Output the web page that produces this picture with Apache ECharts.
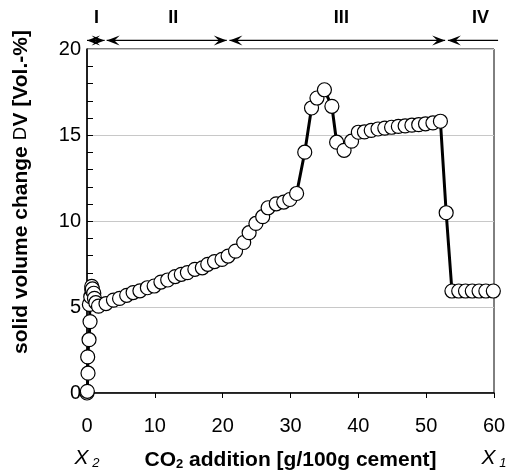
<!DOCTYPE html>
<html>
<head>
<meta charset="utf-8">
<script src="https://cdn.jsdelivr.net/npm/echarts@6/dist/echarts.min.js"></script>
<style>
  html, body { margin: 0; padding: 0; background: #fff; }
  #chart { width: 516px; height: 476px; }
</style>
</head>
<body>
<div id="chart"></div>
<script>
// CO2 addition [g/100g cement]
var xValues = [
  0, 0.05, 0.15, 0.1, 0.3, 0.45, 0.35, 0.55, 0.7, 0.7, 0.8, 1.0, 1.1, 1.3, 1.7,
  2.8, 3.9, 4.8, 5.85, 6.8, 7.8, 8.9, 9.9, 10.9, 11.9, 13.0, 13.9, 14.8, 15.9,
  17.0, 17.8, 18.8, 19.9, 20.8, 21.9, 23.1, 23.9, 24.9, 25.9, 26.7, 27.9, 29.0,
  29.9, 30.9, 32.1, 33.1, 33.9, 35.0, 36.1, 36.8, 37.9, 39.0, 40.0, 40.9, 41.9,
  42.9, 43.9, 44.9, 45.9, 46.9, 47.9, 48.9, 49.9, 51.0, 52.1, 52.95,
  53.8, 54.8, 55.8, 56.8, 57.8, 58.8, 59.9
];
// solid volume change [Vol.-%]
var yValues = [
  0, 0.1, 1.15, 2.1, 3.1, 4.15, 5.15, 5.6, 6.0, 6.2, 6.05, 5.8, 5.5, 5.25, 5.05,
  5.2, 5.4, 5.5, 5.68, 5.84, 5.94, 6.12, 6.22, 6.45, 6.57, 6.77, 6.9, 7.0, 7.19,
  7.28, 7.48, 7.64, 7.77, 7.96, 8.25, 8.75, 9.32, 9.86, 10.25, 10.77, 11.0, 11.1,
  11.25, 11.6, 14.0, 16.57, 17.15, 17.63, 16.67, 14.58, 14.11, 14.64, 15.16, 15.18, 15.27,
  15.35, 15.4, 15.45, 15.5, 15.53, 15.57, 15.6, 15.65, 15.7, 15.8, 10.48,
  5.93, 5.93, 5.93, 5.93, 5.93, 5.93, 5.93
];
var yTicks = [0, 5, 10, 15, 20];
var yMinorStep = 1;
var xTicks = [0, 10, 20, 30, 40, 50, 60];

// stage ranges (in x units) and labels above the plot
var regionNames = ['I', 'II', 'III', 'IV'];
var regionStart = [0, 2.9, 21.0, 53.2];
var regionEnd = [2.6, 20.6, 52.8, 60.6];
var regionRightHead = [true, true, true, false];
var regionLabelX = [1.4, 12.7, 37.5, 58];

var FONT = 'Liberation Sans';

var points = [];
for (var i = 0; i < xValues.length; i++) {
  points.push([xValues[i], yValues[i]]);
}

var myChart = echarts.init(document.getElementById('chart'));

var option = {
  animation: false,
  grid: {
    left: 87,
    right: 22,
    top: 49,
    bottom: 82,
    show: true,
    borderColor: '#000',
    borderWidth: 1
  },
  xAxis: [
    {
      type: 'value',
      min: xTicks[0],
      max: xTicks[xTicks.length - 1],
      interval: 10,
      axisLine: { onZero: false, lineStyle: { color: '#000', width: 1.5 } },
      axisTick: { show: true, length: 5, lineStyle: { color: '#000' } },
      splitLine: { show: false },
      axisLabel: { color: '#000', fontFamily: FONT, fontSize: 20, margin: 23 },
      name: 'CO{s|2} addition [g/100g cement]',
      nameLocation: 'middle',
      nameGap: 56,
      nameTextStyle: {
        color: '#000', fontFamily: FONT, fontSize: 21, fontWeight: 'bold',
        rich: {
          s: { fontFamily: FONT, fontSize: 13, fontWeight: 'bold', verticalAlign: 'bottom', padding: [9, 0, 0, 0] }
        }
      }
    },
    {
      type: 'value',
      position: 'bottom',
      min: 0,
      max: 60,
      interval: 60,
      axisLine: { show: false },
      axisTick: { show: false },
      splitLine: { show: false },
      axisLabel: {
        margin: 54,
        formatter: function (v) {
          return v === 0 ? '{x|X}{s| 2}' : '{x|X}{s| 1}';
        },
        rich: {
          x: { fontFamily: FONT, fontSize: 21, fontStyle: 'italic', color: '#000' },
          s: { fontFamily: FONT, fontSize: 13, fontStyle: 'italic', color: '#000', padding: [10, 0, 0, 0] }
        }
      }
    }
  ],
  yAxis: {
    type: 'value',
    min: yTicks[0],
    max: yTicks[yTicks.length - 1],
    interval: 5,
    axisLine: { show: true, lineStyle: { color: '#000', width: 1.5 } },
    axisTick: { show: false },
    splitLine: { show: true, lineStyle: { color: '#c8c8c8', width: 1 } },
    axisLabel: { color: '#000', fontFamily: FONT, fontSize: 20, margin: 6 },
    name: '{b|solid volume change }{d|D}{b|V [Vol.-%]}',
    nameLocation: 'middle',
    nameGap: 55,
    nameTextStyle: {
      padding: [0, 0, 0, 58],
      rich: {
        b: { fontFamily: FONT, fontSize: 21, fontWeight: 'bold', color: '#000' },
        d: { fontFamily: 'DejaVu Sans', fontSize: 18, fontWeight: 'normal', color: '#000' }
      }
    }
  },
  series: [
    {
      type: 'line',
      data: points,
      symbol: 'circle',
      symbolSize: 14,
      z: 3,
      lineStyle: { color: '#000', width: 3 },
      itemStyle: { color: '#fff', borderColor: '#000', borderWidth: 1.2 }
    }
  ]
};

myChart.setOption(option);

// stage arrows above the plot and the small inside ticks on the y axis
function drawExtras() {
  var arrowY = myChart.convertToPixel({ yAxisIndex: 0 }, 20.5);
  var labelY = myChart.convertToPixel({ yAxisIndex: 0 }, 21.8);
  var axisX = myChart.convertToPixel({ xAxisIndex: 0 }, xTicks[0]);
  var L = 13, W = 5;
  var els = [];
  function head(tx, dir) {
    // dir = -1 tip points left, +1 tip points right
    return {
      type: 'polygon',
      shape: { points: [[tx, arrowY], [tx - dir * L, arrowY - W], [tx - dir * L * 0.6, arrowY], [tx - dir * L, arrowY + W]] },
      style: { fill: '#000' },
      silent: true
    };
  }
  for (var v = yTicks[0] + yMinorStep; v < yTicks[yTicks.length - 1]; v += yMinorStep) {
    var ty = Math.round(myChart.convertToPixel({ yAxisIndex: 0 }, v)) + 0.5;
    els.push({
      type: 'line',
      z: 1,
      shape: { x1: axisX, y1: ty, x2: axisX + 6, y2: ty },
      style: { stroke: '#000', lineWidth: 1 },
      silent: true
    });
  }
  for (var i = 0; i < regionNames.length; i++) {
    var x1 = myChart.convertToPixel({ xAxisIndex: 0 }, regionStart[i]);
    var x2 = myChart.convertToPixel({ xAxisIndex: 0 }, regionEnd[i]);
    els.push({
      type: 'line',
      shape: { x1: x1, y1: arrowY, x2: x2, y2: arrowY },
      style: { stroke: '#000', lineWidth: 1.2 },
      silent: true
    });
    els.push(head(x1, -1));
    if (regionRightHead[i]) els.push(head(x2, 1));
    els.push({
      type: 'text',
      x: myChart.convertToPixel({ xAxisIndex: 0 }, regionLabelX[i]),
      y: labelY,
      style: {
        text: regionNames[i], fill: '#000', font: 'bold 18px "' + FONT + '"',
        align: 'center', verticalAlign: 'middle'
      },
      silent: true
    });
  }
  myChart.setOption({ graphic: els });
}
drawExtras();

window.addEventListener('resize', function () {
  myChart.resize();
  drawExtras();
});
</script>
</body>
</html>
